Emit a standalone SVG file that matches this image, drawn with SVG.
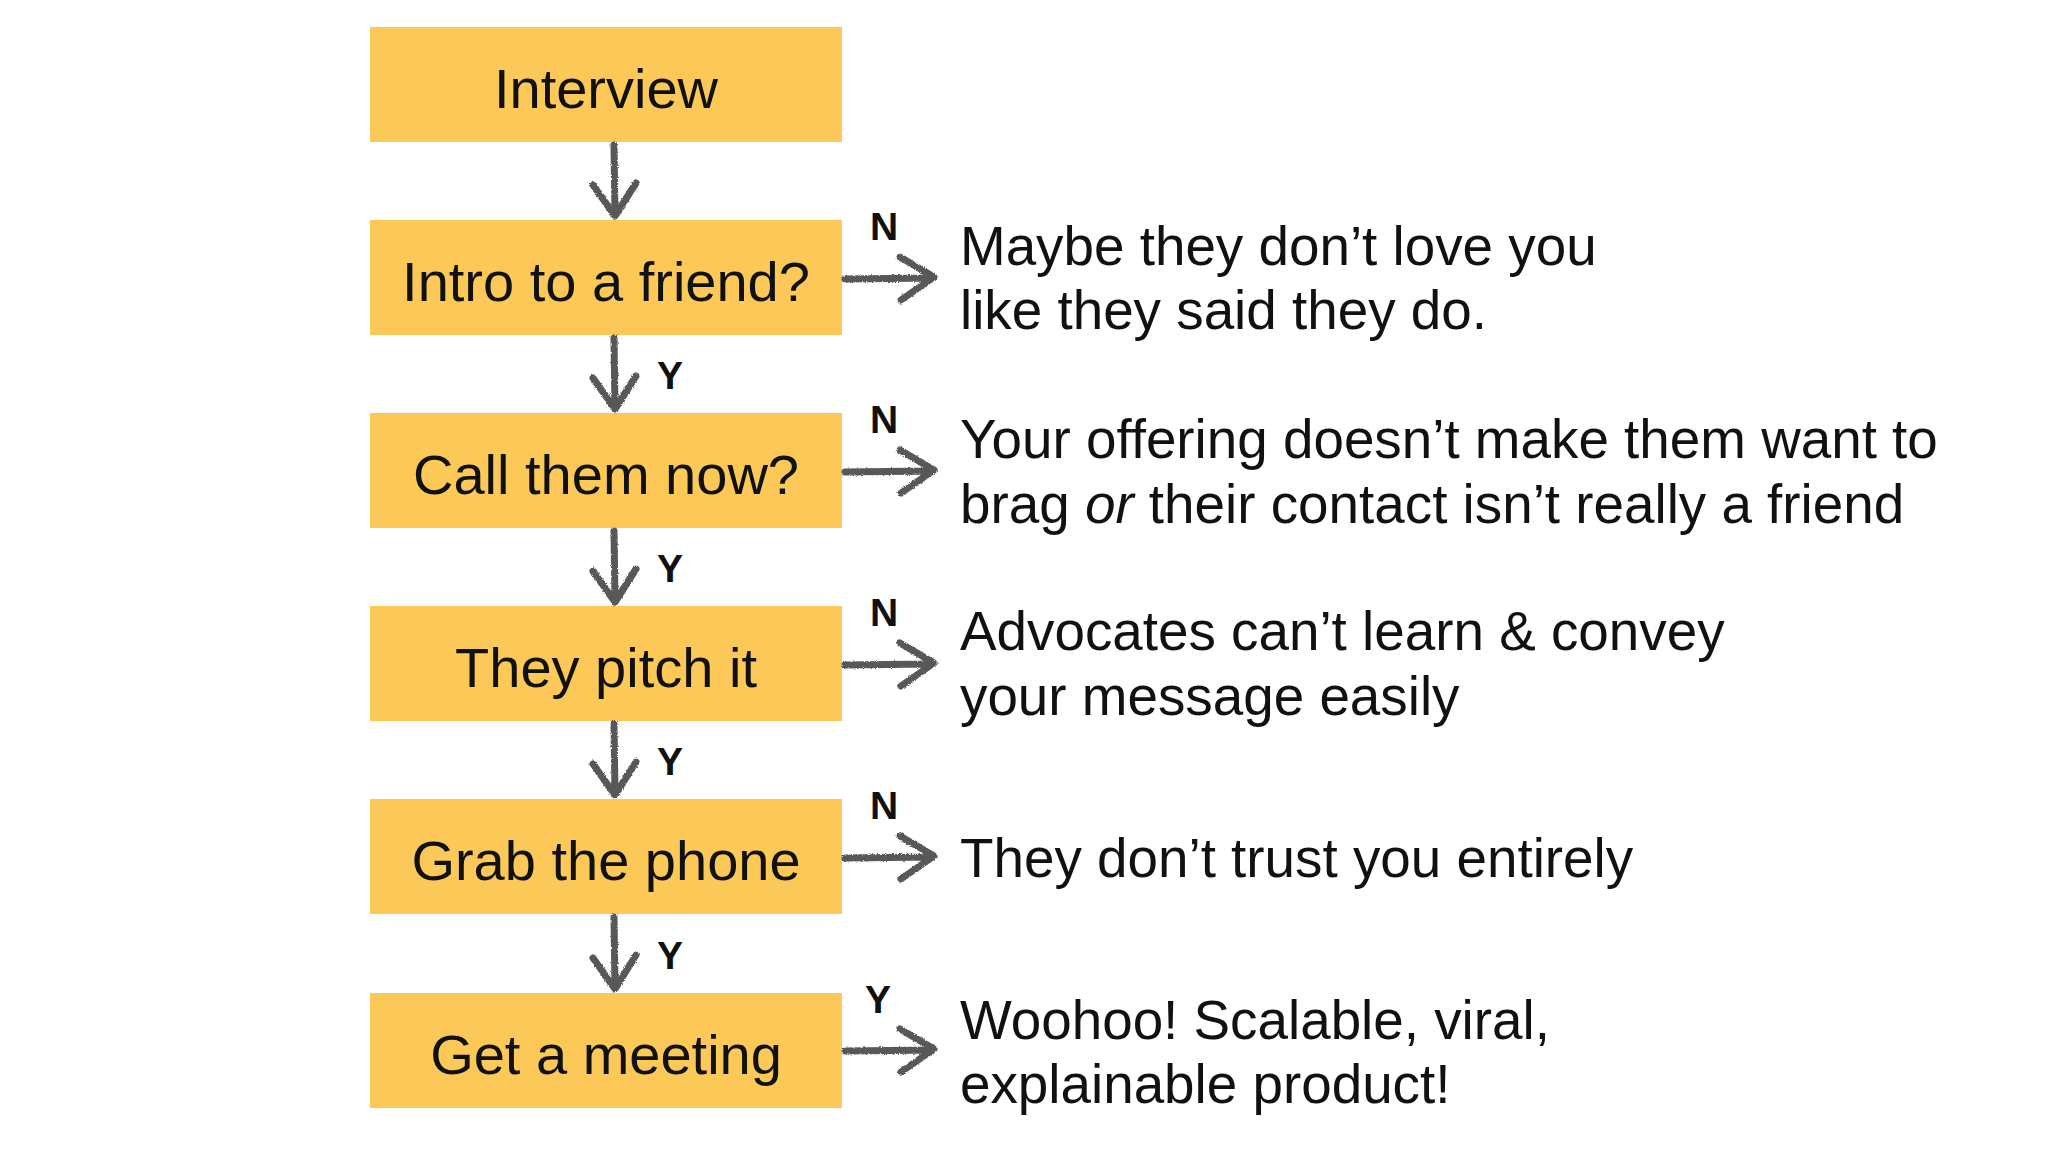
<svg xmlns="http://www.w3.org/2000/svg" width="2048" height="1152" viewBox="0 0 2048 1152">
  <defs>
    <filter id="chalk" x="-20%" y="-20%" width="140%" height="140%">
      <feTurbulence type="fractalNoise" baseFrequency="0.9" numOctaves="2" seed="3" result="noise"/>
      <feDisplacementMap in="SourceGraphic" in2="noise" scale="3" xChannelSelector="R" yChannelSelector="G"/>
    </filter>
  </defs>
  <style>
    .box { fill: #FCC858; }
    .btxt { font-family: "Liberation Sans", Arial, sans-serif; font-size: 56px; fill: #111; text-anchor: middle; }
    .rtxt { font-family: "Liberation Sans", Arial, sans-serif; font-size: 54.8px; fill: #111; }
    .lbl { font-family: "Liberation Sans", Arial, sans-serif; font-size: 39px; font-weight: bold; fill: #111; text-anchor: middle; }
    .arr { fill: none; stroke: #58585a; stroke-width: 7; stroke-linecap: round; stroke-linejoin: round; filter: url(#chalk); }
  </style>
  <rect width="2048" height="1152" fill="#ffffff"/>

  <g id="node-interview">
    <rect class="box" x="370" y="27" width="472" height="115"/>
    <text class="btxt" x="606" y="108">Interview</text>
  </g>
  <g id="node-intro">
    <rect class="box" x="370" y="220" width="472" height="115"/>
    <text class="btxt" x="606" y="301">Intro to a friend?</text>
  </g>
  <g id="node-call">
    <rect class="box" x="370" y="413" width="472" height="115"/>
    <text class="btxt" x="606" y="494">Call them now?</text>
  </g>
  <g id="node-pitch">
    <rect class="box" x="370" y="606" width="472" height="115"/>
    <text class="btxt" x="606" y="687">They pitch it</text>
  </g>
  <g id="node-phone">
    <rect class="box" x="370" y="799" width="472" height="115"/>
    <text class="btxt" x="606" y="880">Grab the phone</text>
  </g>
  <g id="node-meeting">
    <rect class="box" x="370" y="993" width="472" height="115"/>
    <text class="btxt" x="606" y="1074">Get a meeting</text>
  </g>

  <g id="outcome-1">
    <text class="rtxt" x="960" y="265">Maybe they don’t love you</text>
    <text class="rtxt" x="960" y="329">like they said they do.</text>
  </g>
  <g id="outcome-2">
    <text class="rtxt" x="960" y="458">Your offering doesn’t make them want to</text>
    <text class="rtxt" x="960" y="523">brag <tspan font-style="italic">or</tspan> their contact isn’t really a friend</text>
  </g>
  <g id="outcome-3">
    <text class="rtxt" x="960" y="650">Advocates can’t learn &amp; convey</text>
    <text class="rtxt" x="960" y="715">your message easily</text>
  </g>
  <g id="outcome-4">
    <text class="rtxt" x="960" y="877">They don’t trust you entirely</text>
  </g>
  <g id="outcome-5">
    <text class="rtxt" x="960" y="1039">Woohoo! Scalable, viral,</text>
    <text class="rtxt" x="960" y="1103">explainable product!</text>
  </g>

  <g id="connectors">
    <!-- down arrows -->
    <path class="arr" d="M614 145 L615 215 M593 185 L615 216 L636 183"/>
    <path class="arr" d="M614 338 L615 408 M593 378 L615 409 L636 376"/>
    <path class="arr" d="M614 531 L615 601 M593 571 L615 602 L636 569"/>
    <path class="arr" d="M614 724 L615 794 M593 764 L615 795 L636 762"/>
    <path class="arr" d="M614 917 L615 988 M593 958 L615 989 L636 955"/>
    <!-- right arrows -->
    <path class="arr" d="M845 279 L932 278 M900 257 L934 277 L901 300"/>
    <path class="arr" d="M845 472 L932 471 M900 450 L934 470 L901 493"/>
    <path class="arr" d="M845 665 L932 664 M900 643 L934 663 L901 686"/>
    <path class="arr" d="M845 858 L932 857 M900 836 L934 856 L901 879"/>
    <path class="arr" d="M845 1051 L932 1050 M900 1029 L934 1049 L901 1072"/>
    <!-- labels -->
    <text class="lbl" x="670" y="389">Y</text>
    <text class="lbl" x="670" y="582">Y</text>
    <text class="lbl" x="670" y="775">Y</text>
    <text class="lbl" x="670" y="969">Y</text>
    <text class="lbl" x="884" y="240">N</text>
    <text class="lbl" x="884" y="433">N</text>
    <text class="lbl" x="884" y="626">N</text>
    <text class="lbl" x="884" y="819">N</text>
    <text class="lbl" x="878" y="1013">Y</text>
  </g>
</svg>
